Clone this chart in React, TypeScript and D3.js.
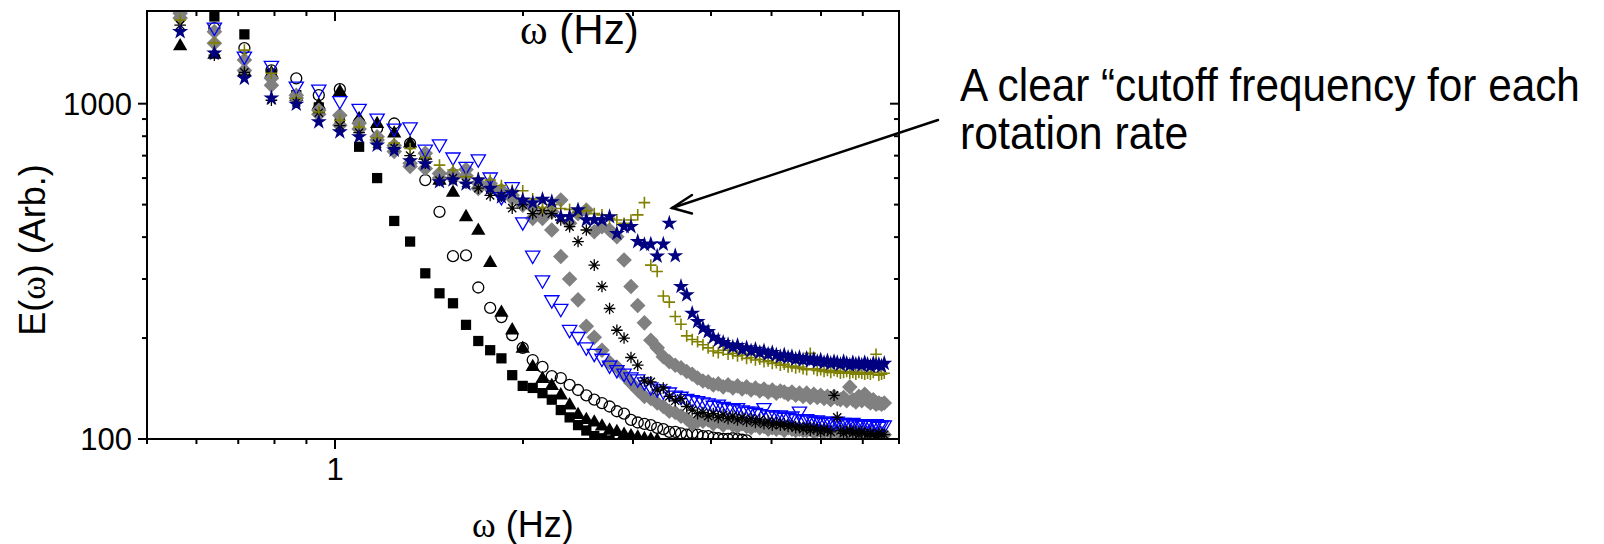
import React from "react";
import * as d3 from "d3";

// Frequency bins (Hz) shared by all spectra
const FREQ = [
  0.565, 0.641, 0.716, 0.791, 0.867, 0.942, 1.018, 1.093, 1.168, 1.244,
  1.319, 1.395, 1.47, 1.545, 1.621, 1.696, 1.772, 1.847, 1.922, 1.998,
  2.073, 2.149, 2.224, 2.299, 2.375, 2.45, 2.526, 2.601, 2.676, 2.752,
  2.827, 2.903, 2.978, 3.053, 3.129, 3.204, 3.28, 3.355, 3.43, 3.506,
  3.581, 3.657, 3.732, 3.807, 3.883, 3.958, 4.034, 4.109, 4.184, 4.26,
  4.335, 4.411, 4.486, 4.561, 4.637, 4.712, 4.788, 4.863, 4.938, 5.014,
  5.089, 5.165, 5.24, 5.315, 5.391, 5.466, 5.542, 5.617, 5.692, 5.768,
  5.843, 5.919, 5.994, 6.069, 6.145, 6.22, 6.296, 6.371, 6.446, 6.522,
  6.597, 6.673, 6.748, 6.823, 6.899, 6.974, 7.05, 7.125, 7.2, 7.276,
  7.351, 7.427, 7.502, 7.577,
];

// E(ω) for each rotation rate, one value per frequency bin (null = off scale)
const E_SQUARE = [
  null, 1820, 1610, 1230, 1060, 975, 880, 744, 600, 447,
  388, 312, 272, 254, 219, 196, 184, 174, 155, 144,
  142, 137, 131, 122, 116, 110, 106, 102, 100.5, 99,
];
const E_CIRCLE = [
  null, 1680, 1465, 1257, 1190, 1060, 1105, 880, 845, 873,
  760, 592, 476, 351, 353, 283, 246, 231, 204, 187,
  172, 164, 154, 152, 145, 140, 135, 131, 128, 125,
  121, 119, 114, 112, 111, 110, 108, 107, 105, 105,
  104, 103, 104, 103, 102, 102, 101, 100.5, 100, 100,
  100.5, 100, 99.5, 99,
];
const E_TRIANGLE = [
  1485, 1400, 1244, 1232, 1050, 990, 1085, 900, 870, 815,
  761, 700, 590, 543, 459, 418, 335, 238, 211, 186,
  164, 151, 144, 135, 126, 118, 114, 112, 109, 106,
  105, 103, 102, 101, 100, 99.5, 99,
];
const E_DIAMOND_A = [
  1860, 1640, 1350, 1190, 1060, 956, 924, 875, 797, 750,
  664, 711, 619, 619, 636, 559, 578, 552, 522, 498,
  455, 455, 420, 350, 300, 260, 217, 201, 184, 169,
  164, 155, 147, 140, 134, 132, 128, 125, 121, 120,
  117, 115, 111, 113, 113, 114, 111, 113, 110, 112,
  110, 109, 111, 109, 108, 110, 108, 109, 107, 108,
  107, 108, 106, 108, 107, 106, 107, 106, 106, 107,
  105, 106, 106, 105, 106, 105, 106, 105, 104, 106,
  105, 104, 105, 105, 104, 105, 104, 104, 105, 104,
  103, 104, 104, 103,
];
const E_DIAMOND_B = [
  1800, 1515, 1257, 1135, 1040, 930, 863, 840, 780, 720,
  650, 641, 600, 600, 610, 580, 560, 540, 533, 505,
  490, 470, 476, 516, 440, 470, 482, 415, 430, 420,
  401, 342, 285, 250, 222, 197, 187, 176, 170, 166,
  163, 159, 156, 152, 149, 148, 145, 146, 143, 145,
  142, 144, 141, 143, 140, 142, 139, 141, 138, 140,
  137, 139, 138, 136, 138, 135, 137, 134, 137, 133,
  136, 133, 135, 132, 134, 131, 134, 132, 131, 133,
  130, 143, 131, 129, 134, 130, 136, 130, 128, 131,
  127, 128, 127, 128,
];
const E_TRIANGLE_DOWN = [
  null, 1690, 1385, 1300, 1127, 1105, 1020, 968, 905, 845,
  852, 731, 758, 693, 650, 684, 604, 528, 565, 444,
  353, 298, 260, 245, 212, 202, 188, 180, 174, 166,
  161, 157, 153, 151, 148, 143, 141, 139, 138, 135,
  134, 132, 131, 130, 129, 128, 126, 127, 125, 124,
  123, 124, 122, 121, 121, 120, 119, 124, 118, 118,
  117, 118, 116, 116, 117, 115, 121, 114, 115, 114,
  113, 114, 113, 112, 113, 112, 112, 113, 111, 112,
  111, 111, 112, 110, 111, 111, 110, 111, 110, 110,
  111, 109, 110, 110,
];
const E_ASTERISK = [
  1715, 1395, 1240, 1024, 1010, 940, 860, 820, 760, 740,
  700, 665, 590, 600, 580, 560, 533, 530, 488, 500,
  470, 480, 470, 450, 430, 388, 420, 330, 285, 245,
  211, 200, 175, 166, 149, 148, 140, 142, 134, 130,
  132, 125, 122, 119, 120, 117, 119, 116, 118, 115,
  117, 114, 116, 113, 115, 112, 114, 111, 113, 110,
  112, 110, 111, 109, 110, 108, 109, 107, 109, 106,
  108, 107, 105, 107, 106, 105, 135, 116, 106, 104,
  105, 106, 104, 105, 103, 105, 104, 103, 104, 103,
  102, 104, 103, 103,
];
const E_PLUS = [
  1775, 1518, 1445, 1232, 1038, 945, 893, 852, 790, 763,
  735, 690, 656, 634, 605, 600, 592, 570, 552, 550,
  520, 490, 500, 487, 484, 475, 480, 470, 466, 455,
  450, 440, 450, 466, 507, 330, 316, 267, 256, 232,
  220, 203, 198, 195, 191, 187, 183, 181, 184, 179,
  180, 177, 178, 174, 175, 172, 173, 170, 171, 168,
  169, 166, 167, 164, 165, 163, 164, 162, 161, 180,
  162, 160, 161, 159, 160, 158, 160, 159, 157, 158,
  159, 157, 158, 156, 158, 157, 156, 157, 156, 158,
  179, 155, 156, 157,
];
const E_STAR = [
  1640, 1415, 1190, 1040, 996, 883, 824, 797, 752, 727,
  675, 662, 585, 592, 576, 592, 559, 527, 542, 516,
  506, 518, 510, 460, 460, 482, 450, 450, 450, 460,
  410, 430, 430, 388, 380, 381, 351, 381, 440, 352,
  285, 269, 237, 224, 214, 209, 201, 197, 194, 191,
  188, 190, 185, 187, 183, 185, 181, 183, 179, 181,
  178, 176, 178, 175, 176, 173, 175, 172, 174, 171,
  173, 170, 172, 169, 171, 168, 170, 169, 167, 170,
  168, 166, 169, 167, 168, 166, 169, 167, 165, 168,
  166, 167, 165, 168,
];

// Axis ticks
const X_TICKS = [0.5, 0.6, 0.7, 0.8, 0.9, 1, 2, 3, 4, 5, 6, 7, 8];
const X_LABELS = [1];
const Y_TICKS = [100, 200, 300, 400, 500, 600, 700, 800, 900, 1000];
const Y_LABELS = [100, 1000];

const ANNOTATION = ["A clear \u201Ccutoff frequency for each", "rotation rate"];

const W = 1604;
const H = 544;
const PL = 147;
const PR = 899;
const PT = 11;
const PB = 439;

const SANS = "'Liberation Sans', Arial, Helvetica, sans-serif";
const SERIF = "'Liberation Serif', 'Times New Roman', serif";

const x = d3.scaleLog().domain([0.5, 8]).range([PL, PR]);
const y = d3.scaleLog().domain([100, 1890]).range([PB, PT]);

const triUp = d3.symbol(d3.symbolTriangle, 88)() as string;
const shapes: Record<string, string> = {
  square: d3.symbol(d3.symbolSquare, 105)() as string,
  circle: d3.symbol(d3.symbolCircle, 95)() as string,
  triUp,
  triDown: triUp,
  diamond: "M0,-7.8L7.8,0L0,7.8L-7.8,0Z",
  star: d3.symbol(d3.symbolStar, 80)() as string,
  plus: "M-5.8,0H5.8M0,-5.8V5.8",
  asterisk: "M-5.8,0H5.8M0,-5.8V5.8M-4.1,-4.1L4.1,4.1M-4.1,4.1L4.1,-4.1",
};

const SERIES = [
  { key: "sq", values: E_SQUARE, shape: "square", fill: "#000", stroke: "none", sw: 0 },
  { key: "ci", values: E_CIRCLE, shape: "circle", fill: "none", stroke: "#000", sw: 1.3 },
  { key: "tu", values: E_TRIANGLE, shape: "triUp", fill: "#000", stroke: "none", sw: 0 },
  { key: "da", values: E_DIAMOND_A, shape: "diamond", fill: "#808080", stroke: "none", sw: 0 },
  { key: "db", values: E_DIAMOND_B, shape: "diamond", fill: "#808080", stroke: "none", sw: 0 },
  { key: "td", values: E_TRIANGLE_DOWN, shape: "triDown", fill: "none", stroke: "#0000ff", sw: 1.3 },
  { key: "as", values: E_ASTERISK, shape: "asterisk", fill: "none", stroke: "#000", sw: 1.3 },
  { key: "pl", values: E_PLUS, shape: "plus", fill: "none", stroke: "#808000", sw: 1.6 },
  { key: "st", values: E_STAR, shape: "star", fill: "#000080", stroke: "none", sw: 0 },
];

export default function App() {
  return (
    <svg
      width={W}
      height={H}
      viewBox={`0 0 ${W} ${H}`}
      style={{ position: "absolute", left: 0, top: 0, display: "block", background: "#fff" }}
    >
      <defs>
        <clipPath id="plot-area">
          <rect x={PL} y={PT} width={PR - PL} height={PB - PT} />
        </clipPath>
      </defs>
      <rect x={0} y={0} width={W} height={H} fill="#fff" />

      {/* data markers */}
      <g clipPath="url(#plot-area)">
        {SERIES.map((s) => (
          <g key={s.key}>
            {s.values.map((v, i) =>
              v == null ? null : (
                <path
                  key={i}
                  d={shapes[s.shape]}
                  transform={`translate(${x(FREQ[i])},${y(v)})${s.shape === "triDown" ? " rotate(180)" : ""}`}
                  fill={s.fill}
                  stroke={s.stroke}
                  strokeWidth={s.sw}
                />
              )
            )}
          </g>
        ))}
      </g>

      {/* frame */}
      <rect x={PL} y={PT} width={PR - PL} height={PB - PT} fill="none" stroke="#000" strokeWidth={2} />

      {/* x ticks: bottom (outward) and top (mirrored, same direction) */}
      <g stroke="#000" strokeWidth={2}>
        {X_TICKS.map((t) => {
          const len = X_LABELS.includes(t) ? 10 : 5;
          const xx = x(t);
          return (
            <g key={`xt${t}`}>
              <line x1={xx} x2={xx} y1={PB} y2={PB + len} />
              <line x1={xx} x2={xx} y1={PT} y2={PT + len} />
            </g>
          );
        })}
        {Y_TICKS.map((t) => {
          const len = Y_LABELS.includes(t) ? 9 : 5;
          const yy = y(t);
          return (
            <g key={`yt${t}`}>
              <line x1={PL - len} x2={PL} y1={yy} y2={yy} />
              <line x1={PR - len} x2={PR} y1={yy} y2={yy} />
            </g>
          );
        })}
      </g>

      {/* tick labels */}
      <g fontFamily={SANS} fontSize={31} fill="#000">
        {X_LABELS.map((t) => (
          <text key={`xl${t}`} x={x(t)} y={480} textAnchor="middle">
            {t}
          </text>
        ))}
        {Y_LABELS.map((t) => (
          <text key={`yl${t}`} x={132} y={y(t) + 11} textAnchor="end">
            {t}
          </text>
        ))}
      </g>

      {/* axis titles */}
      <text x={520} y={44} fontFamily={SANS} fontSize={42} fill="#000">
        <tspan fontFamily={SERIF}>ω</tspan>
        <tspan> (Hz)</tspan>
      </text>
      <text x={472} y={537} fontFamily={SANS} fontSize={36} fill="#000">
        <tspan fontFamily={SERIF}>ω</tspan>
        <tspan> (Hz)</tspan>
      </text>
      <text
        transform="translate(45,250) rotate(-90)"
        textAnchor="middle"
        fontFamily={SANS}
        fontSize={36}
        fill="#000"
      >
        <tspan>E(</tspan>
        <tspan fontFamily={SERIF}>ω</tspan>
        <tspan>) (Arb.)</tspan>
      </text>

      {/* annotation */}
      <g fontFamily={SANS} fontSize={47} fill="#000">
        <text transform="translate(960,101) scale(0.9,1)">{ANNOTATION[0]}</text>
        <text transform="translate(960,149) scale(0.91,1)">{ANNOTATION[1]}</text>
      </g>
      <g stroke="#000" strokeWidth={2.4} fill="none" strokeLinecap="round">
        <line x1={938} y1={120} x2={672} y2={208} />
        <polyline points="692,195 672,208 692,213.5" />
      </g>
    </svg>
  );
}
